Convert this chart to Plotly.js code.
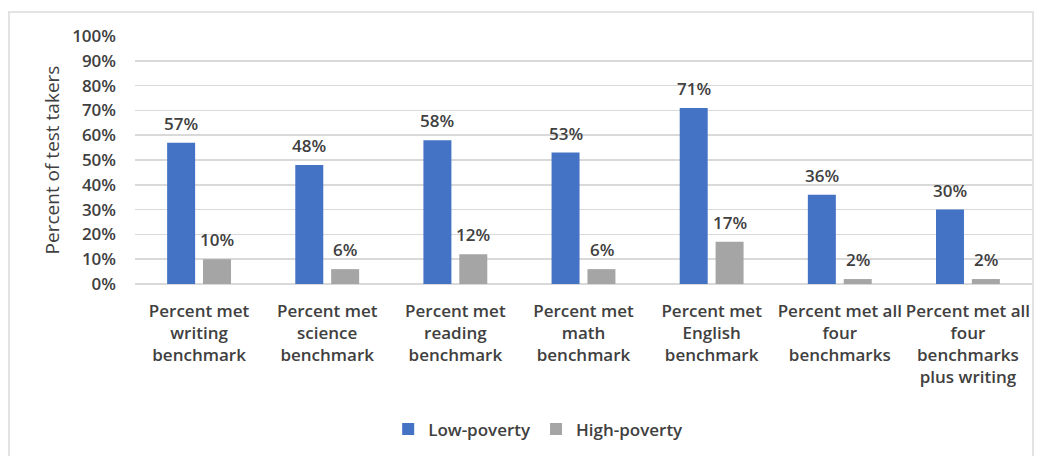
<!DOCTYPE html>
<html>
<head>
<meta charset="utf-8">
<script src="https://cdn.plot.ly/plotly-3.0.1.min.js"></script>
<style>
  html, body { margin: 0; padding: 0; background: #fff; }
  #wrap { position: relative; width: 1045px; height: 456px; overflow: hidden; }
  #frame { position: absolute; left: 8px; top: 11px; width: 1026px; height: 460px; border: 2px solid #e3e3e3; box-sizing: border-box; }
  #chart { position: absolute; left: 0; top: 0; width: 1045px; height: 456px; }
</style>
</head>
<body>
<div id="wrap">
  <div id="frame"></div>
  <div id="chart"></div>
</div>
<script>
const categories = [
  "Percent met<br>writing<br>benchmark",
  "Percent met<br>science<br>benchmark",
  "Percent met<br>reading<br>benchmark",
  "Percent met<br>math<br>benchmark",
  "Percent met<br>English<br>benchmark",
  "Percent met all<br>four<br>benchmarks",
  "Percent met all<br>four<br>benchmarks<br>plus writing"
];
const lowPoverty = [57, 48, 58, 53, 71, 36, 30];
const highPoverty = [10, 6, 12, 6, 17, 2, 2];
const yTickVals = [0, 10, 20, 30, 40, 50, 60, 70, 80, 90, 100];
const yTickText = yTickVals.map(v => v + "%");

const FONT = "Open Sans, Lato, sans-serif";
const TXT = "#404040";

const traces = [
  { type: "bar", name: "Low-poverty", x: categories, y: lowPoverty,
    marker: { color: "#4472C4" }, hoverinfo: "skip" },
  { type: "bar", name: "High-poverty", x: categories, y: highPoverty,
    marker: { color: "#A5A5A5" }, hoverinfo: "skip" }
];

const annotations = [];
[[lowPoverty, -18], [highPoverty, 18]].forEach(([arr, dx]) => {
  arr.forEach((v, i) => {
    annotations.push({
      x: categories[i], y: v, xref: "x", yref: "y",
      text: v + "%", showarrow: false, xshift: dx, yshift: 6,
      yanchor: "bottom",
      font: { family: FONT, size: 17, color: TXT, weight: 600 }
    });
  });
});

const layout = {
  width: 1045, height: 456,
  margin: { l: 135, r: 13, t: 36, b: 172 },
  paper_bgcolor: "rgba(0,0,0,0)",
  plot_bgcolor: "rgba(0,0,0,0)",
  barmode: "group",
  bargap: 0.44,
  bargroupgap: 0.22,
  showlegend: true,
  legend: {
    orientation: "h", x: 0.515, xref: "container", xanchor: "center",
    y: 0.058, yref: "container", yanchor: "middle",
    font: { family: FONT, size: 17, color: TXT, weight: 600 },
    itemwidth: 30, tracegroupgap: 0
  },
  xaxis: {
    automargin: false,
    tickangle: 0,
    tickfont: { family: FONT, size: 17, color: TXT, weight: 600 },
    showgrid: false, zeroline: false, showline: false, ticks: "",
    ticklabelstandoff: 15,
    fixedrange: true
  },
  yaxis: {
    automargin: false,
    range: [0, 100],
    tickvals: yTickVals, ticktext: yTickText,
    tickfont: { family: FONT, size: 17, color: TXT, weight: 600 },
    showgrid: true, gridcolor: "#d9d9d9", gridwidth: 1.5,
    zeroline: true, zerolinecolor: "#d9d9d9", zerolinewidth: 1.5,
    showline: false, ticks: "", ticklabelstandoff: 18,
    title: { text: "Percent of test takers", font: { family: FONT, size: 19, color: TXT }, standoff: 7 },
    fixedrange: true
  },
  annotations: annotations
};

Plotly.newPlot("chart", traces, layout, { displayModeBar: false, staticPlot: true });
</script>
</body>
</html>
